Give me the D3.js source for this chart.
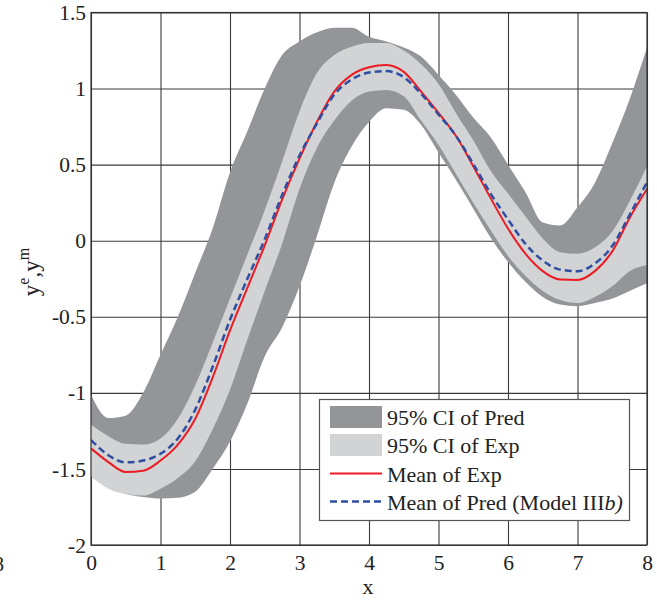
<!DOCTYPE html>
<html>
<head>
<meta charset="utf-8">
<script src="https://cdn.jsdelivr.net/npm/d3@7"></script>
<style>
  html, body { margin: 0; padding: 0; background: #fff; }
  svg { display: block; font-family: "Liberation Serif", "Times New Roman", serif; }
</style>
</head>
<body>
<svg id="chart" width="657" height="601"></svg>
<script>
// ---- data ----
const xs = [0,0.25,0.5,0.75,1,1.25,1.5,1.75,2,2.25,2.5,2.75,3,3.25,3.5,3.75,4,4.25,4.5,4.75,5,5.25,5.5,5.75,6,6.25,6.5,6.75,7,7.25,7.5,7.75,8];
const expMean = [-1.365,-1.455,-1.52,-1.512,-1.445,-1.34,-1.17,-0.9,-0.59,-0.31,-0.03,0.27,0.54,0.78,0.98,1.09,1.14,1.155,1.11,0.98,0.84,0.69,0.49,0.28,0.08,-0.085,-0.2,-0.255,-0.258,-0.2,-0.07,0.15,0.34];
const predMean = [-1.31,-1.41,-1.457,-1.445,-1.40,-1.30,-1.11,-0.83,-0.52,-0.25,0.01,0.30,0.56,0.77,0.96,1.06,1.105,1.115,1.075,0.965,0.83,0.69,0.505,0.31,0.14,-0.02,-0.13,-0.19,-0.2,-0.15,-0.035,0.17,0.385];
const expHi = [-1.21,-1.285,-1.335,-1.34,-1.30,-1.17,-0.95,-0.67,-0.38,-0.09,0.2,0.52,0.85,1.1,1.22,1.275,1.30,1.30,1.25,1.16,1.03,0.84,0.66,0.46,0.31,0.16,0.015,-0.075,-0.085,-0.045,0.06,0.26,0.49];
const expLo = [-1.55,-1.63,-1.665,-1.675,-1.63,-1.56,-1.45,-1.24,-0.98,-0.65,-0.33,-0.02,0.34,0.61,0.79,0.92,0.98,0.99,0.95,0.79,0.63,0.44,0.25,0.07,-0.1,-0.23,-0.33,-0.39,-0.41,-0.37,-0.3,-0.2,-0.16];
const predHi = [-1.01,-1.165,-1.15,-1.0,-0.75,-0.5,-0.21,0.08,0.45,0.72,1.0,1.22,1.31,1.37,1.40,1.40,1.34,1.31,1.27,1.21,1.09,0.96,0.81,0.68,0.5,0.32,0.12,0.1,0.22,0.38,0.64,0.93,1.27];
const predLo = [-1.55,-1.62,-1.665,-1.685,-1.695,-1.69,-1.65,-1.5,-1.32,-1.07,-0.76,-0.57,-0.3,0.03,0.38,0.62,0.78,0.87,0.86,0.76,0.58,0.40,0.21,0.02,-0.14,-0.27,-0.37,-0.42,-0.43,-0.41,-0.38,-0.33,-0.28];

const xTicks = [0,1,2,3,4,5,6,7,8];
const xTickLabels = ["0","1","2","3","4","5","6","7","8"];
const yTicks = [1.5,1,0.5,0,-0.5,-1,-1.5,-2];
const yTickLabels = ["1.5","1","0.5","0","-0.5","-1","-1.5","-2"];
const legendLabels = ["95% CI of Pred","95% CI of Exp","Mean of Exp","Mean of Pred (Model III"];

// ---- layout ----
const L = 91, R = 647, T = 12.5, B = 545;
const svg = d3.select("#chart");
const x = d3.scaleLinear().domain([0,8]).range([L,R]);
const y = d3.scaleLinear().domain([-2,1.5]).range([B,T]);

const C = { dark:"#939598", light:"#d1d3d4", red:"#ed1c24", blue:"#2f4ea1", grid:"#3a3a3a" };

svg.append("rect").attr("width",657).attr("height",601).attr("fill","#fff");

svg.append("defs").append("clipPath").attr("id","plotclip")
  .append("rect").attr("x",L).attr("y",T).attr("width",R-L).attr("height",B-T);

// grid via axes
const gx = svg.append("g").attr("transform",`translate(0,${B})`)
  .call(d3.axisBottom(x).tickValues(xTicks).tickSize(-(B-T)).tickFormat((d,i)=>xTickLabels[i]).tickPadding(8));
const gy = svg.append("g").attr("transform",`translate(${L},0)`)
  .call(d3.axisLeft(y).tickValues(yTicks).tickSize(-(R-L)).tickFormat((d,i)=>yTickLabels[i]).tickPadding(5));
[gx,gy].forEach(g=>{
  g.select(".domain").remove();
  g.selectAll(".tick line").attr("stroke",C.grid).attr("stroke-width",1.1);
  g.selectAll(".tick text").attr("fill","#222").style("font-size","21.5px").style("font-family","Liberation Serif, serif");
});
gx.selectAll(".tick text").attr("dy","0.8em");
gy.selectAll(".tick text").attr("dy","0.33em");

const rows = xs.map((xv,i)=>({x:xv, em:expMean[i], pm:predMean[i], eh:expHi[i], el:expLo[i], ph:predHi[i], pl:predLo[i]}));
const plot = svg.append("g").attr("clip-path","url(#plotclip)");
const cv = d3.curveMonotoneX;

plot.append("path").datum(rows)
  .attr("d", d3.area().curve(cv).x(d=>x(d.x)).y0(d=>y(d.pl)).y1(d=>y(d.ph)))
  .attr("fill", C.dark);
plot.append("path").datum(rows)
  .attr("d", d3.area().curve(cv).x(d=>x(d.x)).y0(d=>y(d.el)).y1(d=>y(d.eh)))
  .attr("fill", C.light);
plot.append("path").datum(rows)
  .attr("d", d3.line().curve(cv).x(d=>x(d.x)).y(d=>y(d.em)))
  .attr("fill","none").attr("stroke",C.red).attr("stroke-width",2);
plot.append("path").datum(rows)
  .attr("d", d3.line().curve(cv).x(d=>x(d.x)).y(d=>y(d.pm)))
  .attr("fill","none").attr("stroke",C.blue).attr("stroke-width",2.5).attr("stroke-dasharray","7,4");

// frame
svg.append("rect").attr("x",L).attr("y",T).attr("width",R-L).attr("height",B-T)
  .attr("fill","none").attr("stroke","#333").attr("stroke-width",1.2);

// axis labels
svg.append("text").attr("x",(L+R)/2 - 1).attr("y",594).attr("text-anchor","middle")
  .style("font-size","22px").attr("fill","#222").text("x");
const yl = svg.append("text").attr("transform","translate(39,272) rotate(-90)").attr("text-anchor","middle")
  .style("font-size","23px").attr("fill","#222");
yl.append("tspan").text("y");
yl.append("tspan").attr("dy","-10").style("font-size","16px").text("e");
yl.append("tspan").attr("dy","10").text(",y");
yl.append("tspan").attr("dy","-10").style("font-size","16px").text("m");

// partial glyph at left edge from a neighbouring figure
svg.append("text").attr("x",4).attr("y",571).attr("text-anchor","end")
  .style("font-size","21px").attr("fill","#222").text("8");

// legend
const lg = svg.append("g");
lg.append("rect").attr("x",319.5).attr("y",399.5).attr("width",310).attr("height",121)
  .attr("fill","#fff").attr("stroke","#555").attr("stroke-width",1.2);
const items = [
  {type:"rect", color:C.dark},
  {type:"rect", color:C.light},
  {type:"line", color:C.red},
  {type:"dash", color:C.blue}
];
const rowY = [417, 445, 473.5, 501.5];
items.forEach((it,i)=>{
  const cy = rowY[i];
  if (it.type==="rect") {
    lg.append("rect").attr("x",330).attr("y",cy-11).attr("width",52).attr("height",22).attr("fill",it.color);
  } else {
    lg.append("line").attr("x1",330).attr("x2",382).attr("y1",cy).attr("y2",cy)
      .attr("stroke",it.color).attr("stroke-width", it.type==="dash"?2.5:2)
      .attr("stroke-dasharray", it.type==="dash"?"7,4":null);
  }
  const t = lg.append("text").attr("x",387).attr("y",cy+8).style("font-size","22px").attr("fill","#222");
  t.append("tspan").text(legendLabels[i]);
  if (i===3) { t.append("tspan").style("font-style","italic").text("b"); t.append("tspan").style("font-style","italic").text(")"); }
});
</script>
</body>
</html>
